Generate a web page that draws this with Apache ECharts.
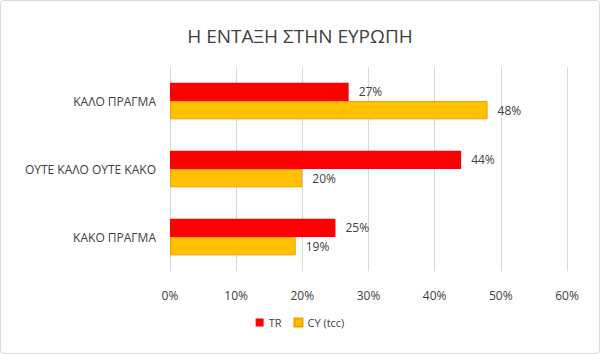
<!DOCTYPE html>
<html>
<head>
<meta charset="utf-8">
<script src="https://cdn.jsdelivr.net/npm/echarts@6/dist/echarts.min.js"></script>
<style>
  html, body { margin: 0; padding: 0; background: #fff; }
  #chart { width: 598px; height: 352px; border: 1px solid #d9d9d9; border-radius: 4px; }
</style>
</head>
<body>
<div id="chart"></div>
<script>
const categories = ['ΚΑΛΟ ΠΡΑΓΜΑ', 'ΟΥΤΕ ΚΑΛΟ ΟΥΤΕ ΚΑΚΟ', 'ΚΑΚΟ ΠΡΑΓΜΑ'];
const trValues = [27, 44, 25];
const cyValues = [48, 20, 19];

const font = 'Open Sans';
let chart = echarts.init(document.getElementById('chart'), null, { renderer: 'svg' });

const labelStyle = {
  show: true,
  position: 'right',
  distance: 10,
  formatter: p => p.value + '%',
  color: '#404040',
  fontFamily: font,
  fontSize: 12
};

chart.setOption({
  animation: false,
  title: {
    text: 'Η ΕΝΤΑΞΗ ΣΤΗΝ ΕΥΡΩΠΗ',
    left: 'center',
    top: 20,
    textStyle: { fontFamily: font, fontSize: 19, fontWeight: 'normal', color: '#404040' }
  },
  legend: {
    bottom: 20,
    left: 'center',
    itemWidth: 8,
    itemHeight: 8,
    itemGap: 12,
    icon: 'rect',
    textStyle: { fontFamily: font, fontSize: 11, color: '#404040' },
    data: ['TR', 'CY (tcc)']
  },
  grid: { left: 169, right: 32, top: 66, bottom: 82 },
  xAxis: {
    type: 'value',
    min: 0,
    max: 60,
    interval: 10,
    axisLine: { show: false },
    axisTick: { show: false },
    splitLine: { lineStyle: { color: '#d9d9d9' } },
    axisLabel: { formatter: '{value}%', fontFamily: font, fontSize: 12, color: '#404040', margin: 18 }
  },
  yAxis: {
    type: 'category',
    inverse: true,
    data: categories,
    axisLine: { show: false },
    axisTick: { show: false },
    axisLabel: { fontFamily: font, fontSize: 12, color: '#404040', margin: 14 }
  },
  series: [
    {
      name: 'TR',
      type: 'bar',
      data: trValues,
      barGap: '0%',
      barCategoryGap: '46%',
      itemStyle: { color: '#ff0000' },
      label: labelStyle
    },
    {
      name: 'CY (tcc)',
      type: 'bar',
      data: cyValues,
      itemStyle: { color: '#ffc000', borderColor: '#f5a000', borderWidth: 1 },
      label: labelStyle
    }
  ]
});
</script>
</body>
</html>
